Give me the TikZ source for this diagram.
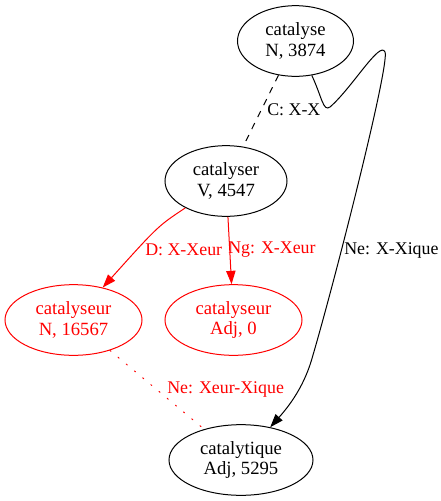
\documentclass[tikz,border=0pt]{standalone}
\usepackage{fontspec}
\setmainfont{Liberation Serif}
\usetikzlibrary{arrows.meta, shapes.geometric}
\newcommand{\wfont}{\fontsize{14pt}{15.5pt}\selectfont}
\newcommand{\lfont}{\fontsize{13.4pt}{15pt}\selectfont}

\tikzset{
  word/.style={ellipse,draw,line width=0.75pt,inner sep=0pt,align=center,
    minimum height=53pt,font=\wfont},
  elabel/.style={anchor=west,inner sep=0pt,font=\lfont},
  link/.style={line width=0.75pt}
}

\begin{document}
\begin{tikzpicture}[x=0.75pt,y=-0.75pt,>={Triangle[length=10pt,width=7pt]}]
  % page: 441 x 501 px
  \useasboundingbox (0,0) rectangle (441,501);
  % words
  \node[word,minimum width=87pt] (catalyse) at (295.5,41) {catalyse\\N, 3874};
  \node[word,minimum width=91.5pt] (catalyser) at (226,181) {catalyser\\V, 4547};
  \node[word,red,minimum width=102.75pt] (catalyseurN) at (73.5,320) {catalyseur\\N, 16567};
  \node[word,red,minimum width=102.75pt] (catalyseurA) at (233.5,320) {catalyseur\\Adj, 0};
  \node[word,minimum width=108pt] (catalytique) at (241,460) {catalytique\\Adj, 5295};
  % links
  \draw[link,dash pattern=on 5pt off 5pt](catalyse)--(catalyser);
  \draw[link,->](catalyse) .. controls (322,97) and (323,112) .. (330,107)
    .. controls (352,88) and (380,40) .. (385,52)
    .. controls (390,64) and (335,280) .. (313,355)
    .. controls (305,385) and (290,405) .. (catalytique);
  \draw[link,red,->](catalyser) .. controls (158,226) .. (catalyseurN);
  \draw[link,red,->](catalyser)--(catalyseurA);
  \draw[link,red,line cap=round,dash pattern=on 1pt off 7pt](catalyseurN)--(catalytique);
  % link labels
  \node[elabel] (lblC) at (267,110) {C: X-X};
  \node[elabel] (lblNe) at (344,250) {Ne: X-Xique};
  \node[elabel,red] (lblD) at (145,250) {D: X-Xeur};
  \node[elabel,red] (lblNg) at (228,250) {Ng: X-Xeur};
  \node[elabel,red] (lblNeX) at (167,389) {Ne: Xeur-Xique};
\end{tikzpicture}
\end{document}
